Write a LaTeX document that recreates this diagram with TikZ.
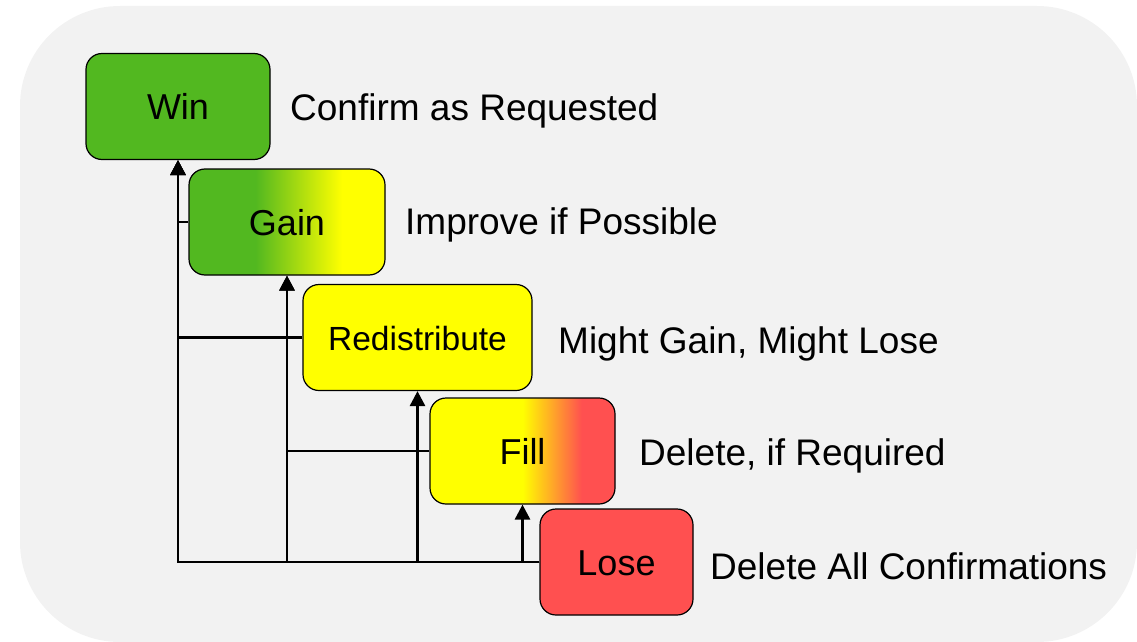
\documentclass[tikz,border=0pt]{standalone}
\usepackage{fontspec}
\setmainfont{Liberation Sans}
\usetikzlibrary{arrows.meta}

\definecolor{wingreen}{RGB}{82,184,32}
\definecolor{gainyellow}{RGB}{255,255,0}
\definecolor{losered}{RGB}{255,80,80}
\definecolor{panelgray}{RGB}{242,242,242}

\pgfdeclarehorizontalshading{gainshade}{100bp}{color(0bp)=(wingreen); color(42bp)=(wingreen); color(64bp)=(gainyellow); color(100bp)=(gainyellow)}
\pgfdeclarehorizontalshading{fillshade}{100bp}{color(0bp)=(gainyellow); color(50bp)=(gainyellow); color(66bp)=(losered); color(100bp)=(losered)}

\tikzstyle{stage}=[rectangle, rounded corners=16pt, draw, line width=1.2pt, inner sep=0pt, minimum height=106pt, text height=26pt, text depth=0pt, font=\fontsize{36}{43}\selectfont]
\tikzstyle{note}=[anchor=base west, inner sep=0pt, font=\fontsize{37}{44}\selectfont]

\begin{document}
\begin{tikzpicture}[x=1pt, y=-1pt]
\useasboundingbox (0,0) rectangle (1137,642);
\fill[panelgray, rounded corners=100pt] (20,6) rectangle (1137,642);

\node[stage, fill=wingreen, minimum width=184pt](win) at (178,106.5) {Win};
\node[stage, shade, shading=gainshade, minimum width=196pt](gain) at (287,222) {Gain};
\node[stage, fill=gainyellow, minimum width=229pt, font=\fontsize{33.5}{40}\selectfont](redist) at (417.5,337.5) {Redistribute};
\node[stage, shade, shading=fillshade, minimum width=185pt](filling) at (522.5,451) {Fill};
\node[stage, fill=losered, minimum width=153pt](lose) at (616.5,562) {Lose};

\node[note](winnote) at (290,120.7) {Confirm as Requested};
\node[note](gainnote) at (405,234) {Improve if Possible};
\node[note](redistnote) at (558,353) {Might Gain, Might Lose};
\node[note](fillnote) at (639,465) {Delete, if Required};
\node[note](losenote) at (710,579) {Delete All Confirmations};

\begin{scope}[every path/.style={line width=2.8pt, -{Triangle[width=15pt,length=15pt]}}]
       \draw (gain.west) -| (win.south);
       \draw (redist.west) -| (win.south);
       \draw (lose.west) -| (win.south);
       \draw (filling.west) -| (gain.south);
       \draw (lose.west) -| (gain.south);
       \draw (lose.west) -| (redist.south);
       \draw (lose.west) -| (filling.south);
\end{scope}
\end{tikzpicture}
\end{document}
